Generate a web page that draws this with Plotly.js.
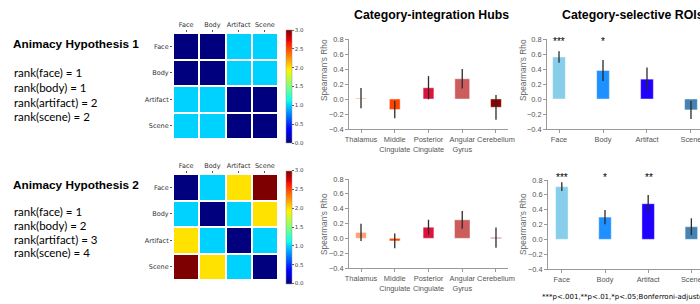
<!DOCTYPE html>
<html><head><meta charset="utf-8">
<script src="https://cdn.plot.ly/plotly-3.0.1.min.js"></script>
<style>html,body{margin:0;padding:0;background:#fff}#chart{width:700px;height:304px}</style>
</head><body><div id="chart"></div>
<script>
// ---- data ----
const hmCategories = ['Face', 'Body', 'Artifact', 'Scene'];
const hyp1Matrix = [[0,0,1,1],[0,0,1,1],[1,1,0,0],[1,1,0,0]];
const hyp2Matrix = [[0,1,2,3],[1,0,1,2],[2,1,0,1],[3,2,1,0]];
const hyp1Text = ['rank(face) = 1', 'rank(body) = 1', 'rank(artifact) = 2', 'rank(scene) = 2'];
const hyp2Text = ['rank(face) = 1', 'rank(body) = 2', 'rank(artifact) = 3', 'rank(scene) = 4'];

const hubLabels = ['Thalamus', 'Middle<br>Cingulate', 'Posterior<br>Cingulate', 'Angular<br>Gyrus', 'Cerebellum'];
const hubRho1 = [0.012, -0.14, 0.15, 0.27, -0.11];
const hubErr1 = [0.135, 0.115, 0.155, 0.13, 0.165];
const hubRho2 = [0.08, -0.035, 0.15, 0.25, 0.01];
const hubErr2 = [0.115, 0.10, 0.10, 0.12, 0.137];
const hubColors = ['#FFA07A', '#FF4500', '#DC143C', '#CD5C5C', '#8B0000'];

const roiLabels = ['Face', 'Body', 'Artifact', 'Scene'];
const roiRho1 = [0.56, 0.38, 0.265, -0.145];
const roiErr1 = [0.078, 0.14, 0.155, 0.12];
const roiRho2 = [0.71, 0.30, 0.48, 0.17];
const roiErr2 = [0.058, 0.097, 0.117, 0.113];
const roiStars1 = ['***', '*', '', ''];
const roiStars2 = ['***', '*', '**', ''];
const roiColors = ['#87CEEB', '#1E90FF', '#1F00FF', '#4682B4'];

const footnote = '***p<.001,**p<.01,*p<.05;Bonferroni-adjusted';

// ---- helpers ----
const W = 700, H = 304;
const px = x => x / W;
const py = y => 1 - y / H;
const jet = [[0,'#00007F'],[0.11,'#0000FF'],[0.125,'#0000FF'],[0.34,'#00D9FF'],[0.35,'#00E5F8'],[0.375,'#0DFFEA'],[0.5,'#7FFF7F'],[0.64,'#F8F500'],[0.66,'#FFE800'],[0.89,'#FF1300'],[0.91,'#E80000'],[1,'#7F0000']];

function heat(z, xa, ya, cbY) {
  return {
    type: 'heatmap', z: z, x: hmCategories, y: hmCategories,
    xaxis: xa, yaxis: ya, colorscale: jet, zmin: 0, zmax: 3,
    xgap: 2, ygap: 2, hoverinfo: 'skip',
    colorbar: {
      x: px(286), xanchor: 'left', xpad: 0, ypad: 0,
      y: py(cbY), yanchor: 'middle', len: 113, lenmode: 'pixels',
      thickness: 6, thicknessmode: 'pixels',
      outlinewidth: 0.5, outlinecolor: '#999',
      tick0: 0, dtick: 0.5, tickformat: '.1f', ticks: 'outside', ticklen: 2,
      tickcolor: '#555', tickfont: {size: 5.5, color: '#444', family: 'DejaVu Sans'}
    }
  };
}

function bars(x, y, err, colors, widths, xa, ya) {
  return {
    type: 'bar', x: x.map((_, i) => i), y: y, xaxis: xa, yaxis: ya,
    width: widths, hoverinfo: 'skip',
    marker: {color: colors, line: {color: 'rgba(255,255,255,0.45)', width: 1}},
    error_y: {type: 'data', array: err, visible: true, color: '#2a2a2a', thickness: 1.3, width: 0}
  };
}

const data = [
  heat(hyp1Matrix, 'x', 'y', 86.5),
  heat(hyp2Matrix, 'x2', 'y2', 227),
  bars(hubLabels, hubRho1, hubErr1, hubColors, [0.32,0.32,0.32,0.44,0.32], 'x3', 'y3'),
  bars(hubLabels, hubRho2, hubErr2, hubColors, [0.32,0.32,0.32,0.46,0.32], 'x4', 'y4'),
  bars(roiLabels, roiRho1, roiErr1, roiColors, 0.29, 'x5', 'y5'),
  bars(roiLabels, roiRho2, roiErr2, roiColors, 0.29, 'x6', 'y6')
];

const hmFont = {size: 6.5, color: '#333', family: 'DejaVu Sans'};
function hmX(dom, anchor) {
  return {domain: dom, anchor: anchor, side: 'top', type: 'category', tickfont: hmFont,
    ticks: 'outside', ticklen: 2, tickcolor: '#555', showgrid: false, zeroline: false, fixedrange: true};
}
function hmY(dom, anchor) {
  return {domain: dom, anchor: anchor, type: 'category', autorange: 'reversed', tickfont: hmFont,
    ticks: 'outside', ticklen: 2, tickcolor: '#555', showgrid: false, zeroline: false, fixedrange: true};
}
const barFont = {size: 7.4, color: '#555', family: 'Liberation Sans, Arial, sans-serif'};
function bX(dom, anchor, labels, range) {
  return {domain: dom, anchor: anchor, range: range, tickmode: 'array', tickangle: 0,
    ticklabeloverflow: 'allow',
    tickvals: labels.map((_, i) => i), ticktext: labels, tickfont: barFont,
    showline: true, linecolor: '#999', linewidth: 1, ticks: 'outside', ticklen: 3, tickcolor: '#999',
    showgrid: false, zeroline: false};
}
function bY(dom, anchor) {
  return {domain: dom, anchor: anchor, range: [-0.4, 0.8], tickmode: 'array',
    tickvals: [-0.4,-0.2,0,0.2,0.4,0.6,0.8], ticktext: ['\u22120.4','\u22120.2','0.0','0.2','0.4','0.6','0.8'],
    tickfont: barFont, showline: true, linecolor: '#999', linewidth: 1, ticks: 'outside', ticklen: 3,
    tickcolor: '#999', showgrid: false, zeroline: false};
}

const annotations = [];
function txt(x, y, text, font, opts) {
  annotations.push(Object.assign({xref: 'paper', yref: 'paper', x: px(x), y: py(y), text: text,
    showarrow: false, xanchor: 'left', yanchor: 'middle', font: font}, opts || {}));
}
const headFont = {size: 11.8, color: '#000', family: 'Liberation Sans, Arial, sans-serif', weight: 'bold'};
const titleFont = {size: 12.3, color: '#000', family: 'Liberation Sans, Arial, sans-serif', weight: 'bold'};
const rankFont = {size: 11.5, color: '#000', family: 'Lato, sans-serif'};
txt(11, 44, 'Animacy Hypothesis 1', headFont);
hyp1Text.forEach((t, i) => txt(12, 73 + i * 14.6, t, rankFont));
txt(11, 185, 'Animacy Hypothesis 2', headFont);
hyp2Text.forEach((t, i) => txt(12, 212 + i * 13.6, t, rankFont));

txt(431, 15, 'Category-integration Hubs', titleFont, {xanchor: 'center'});
txt(560, 15, 'Category-selective ROIs', titleFont);

const yTitleFont = {size: 8.3, color: '#666', family: 'Liberation Sans, Arial, sans-serif'};
txt(324, 70, "Spearman's Rho", yTitleFont, {xanchor: 'center', textangle: -90});
txt(324, 224, "Spearman's Rho", yTitleFont, {xanchor: 'center', textangle: -90});
txt(523, 70, "Spearman's Rho", yTitleFont, {xanchor: 'center', textangle: -90});
txt(523, 224, "Spearman's Rho", yTitleFont, {xanchor: 'center', textangle: -90});

const starFont = {size: 10, color: '#000', family: 'Liberation Sans, Arial, sans-serif'};
const roiStarX = [559, 603, 647, 691];
const roiStarX2 = [562, 605, 649, 692];
roiStars1.forEach((s, i) => { if (s) txt(roiStarX[i], 41, s, starFont, {xanchor: 'center'}); });
roiStars2.forEach((s, i) => { if (s) txt(roiStarX2[i], 177, s, starFont, {xanchor: 'center'}); });

txt(540, 297, footnote, {size: 7, color: '#000', family: 'DejaVu Sans, sans-serif'});

const layout = {
  width: W, height: H, margin: {l: 0, r: 0, t: 0, b: 0},
  paper_bgcolor: '#fff', plot_bgcolor: '#fff', showlegend: false,
  xaxis: hmX([px(173), px(278)], 'y'),
  yaxis: hmY([py(139), py(33)], 'x'),
  xaxis2: hmX([px(173), px(278)], 'y2'),
  yaxis2: hmY([py(280), py(174)], 'x2'),
  xaxis3: bX([px(349), px(508)], 'y3', hubLabels, [-0.356, 4.356]),
  yaxis3: bY([py(129), py(39)], 'x3'),
  xaxis4: bX([px(349), px(508)], 'y4', hubLabels, [-0.356, 4.356]),
  yaxis4: bY([py(268), py(179)], 'x4'),
  xaxis5: bX([px(547), 1], 'y5', roiLabels, [-0.273, 3.205]),
  yaxis5: bY([py(129), py(39)], 'x5'),
  xaxis6: bX([px(548), 1], 'y6', roiLabels, [-0.32, 3.2]),
  yaxis6: bY([py(269), py(180)], 'x6'),
  annotations: annotations
};

Plotly.newPlot('chart', data, layout, {displayModeBar: false, staticPlot: true});
</script></body></html>
